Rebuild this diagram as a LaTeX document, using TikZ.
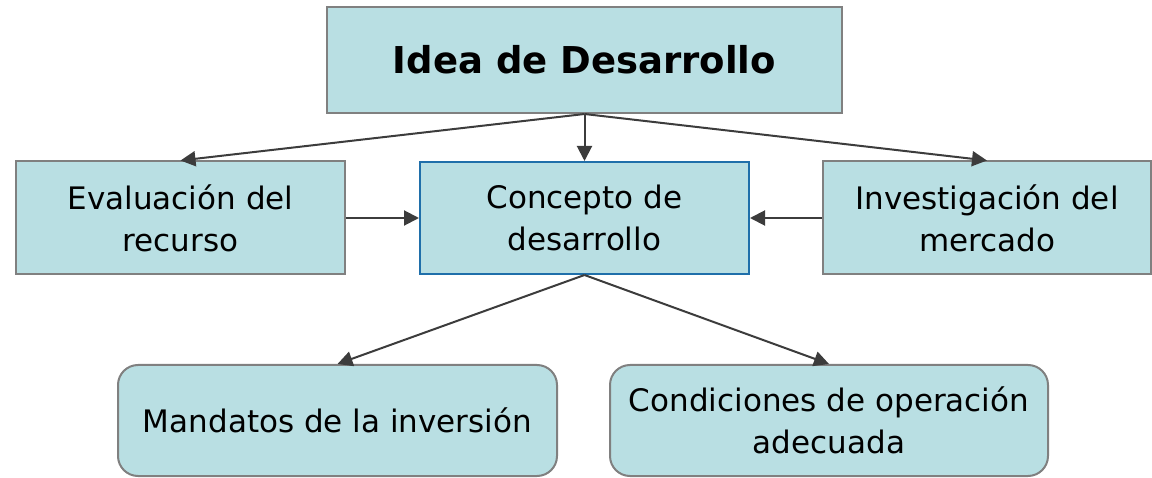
\documentclass[tikz,border=0pt]{standalone}
\usepackage{fontspec}
\setmainfont{DejaVu Sans}
\usetikzlibrary{arrows.meta}
\definecolor{boxfill}{RGB}{185,223,227}
\definecolor{boxline}{RGB}{128,128,128}
\definecolor{mainline}{RGB}{31,111,170}
\definecolor{arrowgray}{RGB}{60,60,60}
\begin{document}
\begin{tikzpicture}[x=0.5pt,y=0.5pt]
	\useasboundingbox (0,0) rectangle (1152,477);
	\begin{scope}[every node/.style={draw=boxline,line width=1pt,fill=boxfill,align=center,inner sep=0pt,font=\fontsize{15.5}{21}\selectfont}]
		\node[minimum width=257.5pt,minimum height=53pt,font=\fontsize{18.5}{22}\selectfont\bfseries] (idea) at (584.5,417) {Idea de Desarrollo};
		\node[minimum width=164.5pt,minimum height=56.5pt] (eval) at (180.5,259) {Evaluación del\\recurso};
		\node[draw=mainline,minimum width=164.5pt,minimum height=56pt] (concepto) at (584.5,259) {Concepto de\\desarrollo};
		\node[minimum width=164pt,minimum height=56.5pt] (mercado) at (987,259) {Investigación del\\mercado};
		\node[rounded corners=10pt,minimum width=219.5pt,minimum height=55.5pt] (mandatos) at (337.5,56.5) {Mandatos de la inversión};
		\node[rounded corners=10pt,minimum width=219pt,minimum height=55.5pt] (condiciones) at (829,56.5) {Condiciones de operación\\adecuada};
	\end{scope}
	\begin{scope}[>={Triangle[length=7.5pt,width=7.5pt]},line width=1pt,color=arrowgray]
		\path[->] (idea.south) edge (eval.north);
		\path[->] (idea.south) edge (concepto.north);
		\path[->] (idea.south) edge (mercado.north);
		\path[->] (eval.east) edge (concepto.west);
		\path[->] (mercado.west) edge (concepto.east);
		\path[->] (concepto.south) edge (mandatos.north);
		\path[->] (concepto.south) edge (condiciones.north);
	\end{scope}
\end{tikzpicture}
\end{document}
